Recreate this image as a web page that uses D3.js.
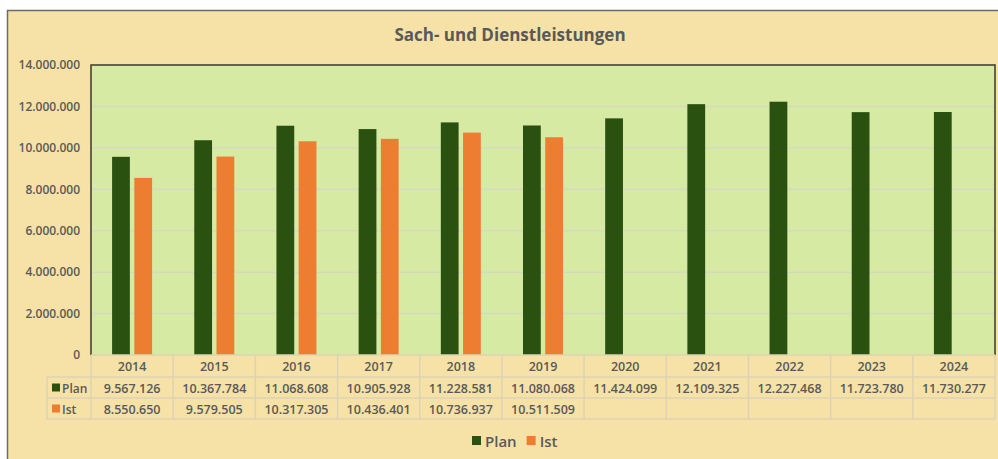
<!DOCTYPE html>
<html>
<head>
<meta charset="utf-8">
<script src="https://cdn.jsdelivr.net/npm/d3@7"></script>
<style>
  body { margin: 0; background: #fff; }
  svg text { font-family: "Open Sans", sans-serif; }
</style>
</head>
<body>
<div id="chart"></div>
<script>
// Chart data
const years = ["2014", "2015", "2016", "2017", "2018", "2019", "2020", "2021", "2022", "2023", "2024"];
const planValues = [9567126, 10367784, 11068608, 10905928, 11228581, 11080068, 11424099, 12109325, 12227468, 11723780, 11730277];
const istValues = [8550650, 9579505, 10317305, 10436401, 10736937, 10511509, null, null, null, null, null];
const seriesNames = ["Plan", "Ist"];
const seriesColors = ["#2b5110", "#ed7d31"];
const yTicks = [0, 2000000, 4000000, 6000000, 8000000, 10000000, 12000000, 14000000];

// German number format (dots as thousands separator)
const de = d3.formatLocale({ decimal: ",", thousands: ".", grouping: [3], currency: ["", " €"] });
const fmt = de.format(",d");

const W = 998, H = 459;
const plot = { left: 91, right: 995, top: 65, bottom: 355 };
const rowH = [22, 21, 21];
const textColor = "#595959";

const svg = d3.select("#chart").append("svg")
    .attr("width", W)
    .attr("height", H);

// Chart area background + border
svg.append("rect")
    .attr("x", 7.5).attr("y", 10.5)
    .attr("width", W).attr("height", H)
    .attr("fill", "#f6e2a6")
    .attr("stroke", "#6b6b6b")
    .attr("stroke-width", 1.5);

// Title
svg.append("text")
    .attr("x", 510).attr("y", 41)
    .attr("text-anchor", "middle")
    .attr("font-size", "17px")
    .attr("font-weight", 700)
    .attr("fill", textColor)
    .text("Sach- und Dienstleistungen");

// Scales
const x = d3.scaleBand().domain(years).range([plot.left, plot.right]);
const bw = x.bandwidth();
const x1 = d3.scaleBand().domain(seriesNames).range([bw / 2 - 20, bw / 2 + 20]).paddingInner(0.2);
const y = d3.scaleLinear().domain([0, 14000000]).range([plot.bottom, plot.top]);

// Plot background
svg.append("rect")
    .attr("x", plot.left).attr("y", plot.top)
    .attr("width", plot.right - plot.left).attr("height", plot.bottom - plot.top)
    .attr("fill", "#d6eaa4");

// Gridlines
svg.append("g")
    .selectAll("line")
    .data(yTicks.slice(1, -1))
    .enter().append("line")
    .attr("x1", plot.left).attr("x2", plot.right)
    .attr("y1", d => y(d)).attr("y2", d => y(d))
    .attr("stroke", "#d5d9bf")
    .attr("stroke-width", 1.5);

// Y axis labels
const yAxis = svg.append("g")
    .attr("transform", "translate(80,0)")
    .call(d3.axisLeft(y).tickValues(yTicks).tickSize(0).tickPadding(0).tickFormat(fmt));
yAxis.select(".domain").remove();
yAxis.selectAll("text")
    .attr("font-family", "Open Sans, sans-serif")
    .attr("font-size", "12px")
    .attr("font-weight", 600)
    .attr("fill", textColor);

// Bars
const groups = svg.append("g")
    .selectAll("g")
    .data(years)
    .enter().append("g")
    .attr("transform", d => `translate(${x(d)},0)`);

groups.selectAll("rect")
    .data((d, i) => [
        { key: "Plan", value: planValues[i] },
        { key: "Ist", value: istValues[i] }
    ].filter(e => e.value !== null))
    .enter().append("rect")
    .attr("x", d => x1(d.key))
    .attr("width", x1.bandwidth())
    .attr("y", d => y(d.value))
    .attr("height", d => y(0) - y(d.value))
    .attr("fill", d => seriesColors[seriesNames.indexOf(d.key)]);

// Plot border (left, top, right)
svg.append("path")
    .attr("d", `M${plot.left},${plot.bottom}V${plot.top}H${plot.right}V${plot.bottom}`)
    .attr("fill", "none")
    .attr("stroke", "#3a3a2a")
    .attr("stroke-width", 1.5);

// Data table
const tTop = plot.bottom;
const rowY = [tTop, tTop + rowH[0], tTop + rowH[0] + rowH[1], tTop + rowH[0] + rowH[1] + rowH[2]];
const tableLeft = 47;
const lineColor = "#ddd3b4";
const table = svg.append("g");

// horizontal lines
table.append("line")
    .attr("x1", plot.left).attr("x2", plot.right)
    .attr("y1", rowY[0]).attr("y2", rowY[0])
    .attr("stroke", lineColor).attr("stroke-width", 1.5);
[rowY[1], rowY[2], rowY[3]].forEach(yy => {
    table.append("line")
        .attr("x1", tableLeft).attr("x2", plot.right)
        .attr("y1", yy).attr("y2", yy)
        .attr("stroke", lineColor).attr("stroke-width", 1.5);
});
// vertical lines
table.selectAll(".vline")
    .data(years.map(d => x(d)).concat([plot.right]))
    .enter().append("line")
    .attr("x1", d => d).attr("x2", d => d)
    .attr("y1", rowY[0]).attr("y2", rowY[3])
    .attr("stroke", lineColor).attr("stroke-width", 1.5);
table.append("line")
    .attr("x1", tableLeft).attr("x2", tableLeft)
    .attr("y1", rowY[1]).attr("y2", rowY[3])
    .attr("stroke", lineColor).attr("stroke-width", 1.5);

// year labels
table.selectAll(".year")
    .data(years)
    .enter().append("text")
    .attr("x", d => x(d) + bw / 2)
    .attr("y", (rowY[0] + rowY[1]) / 2 + 5)
    .attr("text-anchor", "middle")
    .attr("font-size", "12.5px")
    .attr("font-weight", 600)
    .attr("fill", textColor)
    .text(d => d);

// value rows
[planValues, istValues].forEach((vals, r) => {
    const cy = (rowY[r + 1] + rowY[r + 2]) / 2;
    table.append("rect")
        .attr("x", 52).attr("y", cy - 4)
        .attr("width", 8).attr("height", 8)
        .attr("fill", seriesColors[r]);
    table.append("text")
        .attr("x", 62).attr("y", cy + 5)
        .attr("font-size", "12px")
        .attr("font-weight", 600)
        .attr("fill", textColor)
        .text(seriesNames[r]);
    table.selectAll(".v" + r)
        .data(vals.map((v, i) => ({ year: years[i], v })).filter(d => d.v !== null))
        .enter().append("text")
        .attr("x", d => x(d.year) + bw / 2)
        .attr("y", cy + 5)
        .attr("text-anchor", "middle")
        .attr("font-size", "12.5px")
        .attr("font-weight", 600)
        .attr("fill", textColor)
        .text(d => fmt(d.v));
});

// Legend
const legend = svg.append("g").attr("transform", "translate(472,441)");
let lx = 0;
seriesNames.forEach((name, i) => {
    legend.append("rect")
        .attr("x", lx).attr("y", -5)
        .attr("width", 9).attr("height", 9)
        .attr("fill", seriesColors[i]);
    const t = legend.append("text")
        .attr("x", lx + 13).attr("y", 5.5)
        .attr("font-size", "15px")
        .attr("font-weight", 600)
        .attr("fill", textColor)
        .text(name);
    lx += 13 + t.node().getComputedTextLength() + 10;
});
</script>
</body>
</html>
